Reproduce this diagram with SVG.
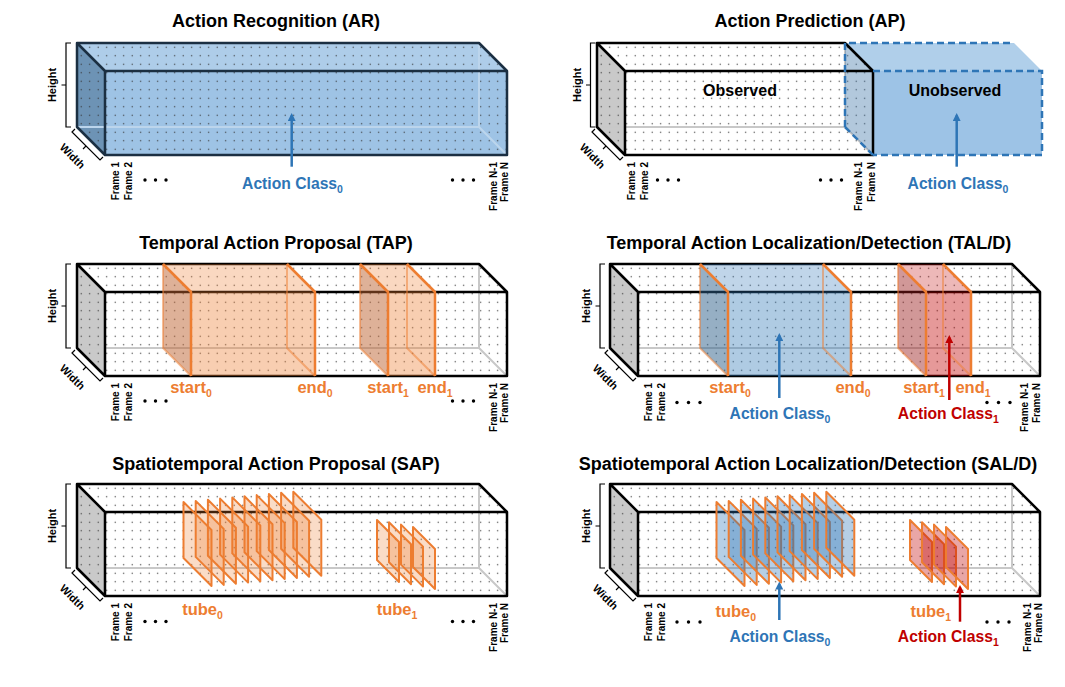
<svg xmlns="http://www.w3.org/2000/svg" width="1065" height="687" viewBox="0 0 1065 687">
<style>
text{font-family:"Liberation Sans",Arial,Helvetica,sans-serif;font-weight:bold}
.ttl{font-size:18px;text-anchor:middle;fill:#000}
.fr{font-size:10px;text-anchor:end;fill:#000}
.dim{font-size:11px;text-anchor:middle;fill:#000}
.org{font-size:16.5px;text-anchor:middle;fill:#ed7d31}
.acb{font-size:15.7px;text-anchor:middle;fill:#2e75b6}
.acr{font-size:15.7px;text-anchor:middle;fill:#c00000}
.obs{font-size:16px;text-anchor:middle;fill:#000}
.sub{font-size:10.5px}
.edge{fill:none;stroke:#000;stroke-width:2.5;stroke-linejoin:round}
.hid{fill:none;stroke:#c8c8c8;stroke-width:2}
.brk{fill:none;stroke:#000;stroke-width:1.2}
.wf{fill:#fff}
.gf{fill:#c9c9c9}
.dots{fill:url(#dots)}
.ostk{fill:none;stroke:#ed7d31;stroke-width:2.5;stroke-linejoin:round}
.ostkl{fill:none;stroke:#ed7d31;stroke-width:2;stroke-opacity:0.5}
.fo{fill:#ed7d31;fill-opacity:0.27;stroke:#ed7d31;stroke-width:2;stroke-linejoin:round}
.fb{fill:#2e75b6;fill-opacity:0.35;stroke:#ed7d31;stroke-width:2;stroke-linejoin:round}
.frd{fill:#c00000;fill-opacity:0.35;stroke:#ed7d31;stroke-width:2;stroke-linejoin:round}
.ell{fill:#000}
.arb{fill:none;stroke:#2e75b6;stroke-width:2.5;marker-end:url(#hb)}
.arr{fill:none;stroke:#c00000;stroke-width:2.5;marker-end:url(#hr)}
</style>
<defs>
<pattern id="dots" width="8.5" height="8.5" patternUnits="userSpaceOnUse"><circle cx="4.2" cy="4.2" r="0.65" fill="#333"/></pattern>
<marker id="hb" viewBox="0 0 10 10" refX="7" refY="5" markerWidth="8" markerHeight="8" markerUnits="userSpaceOnUse" orient="auto"><path d="M0,0L10,5L0,10Z" fill="#2e75b6"/></marker>
<marker id="hr" viewBox="0 0 10 10" refX="7" refY="5" markerWidth="8" markerHeight="8" markerUnits="userSpaceOnUse" orient="auto"><path d="M0,0L10,5L0,10Z" fill="#c00000"/></marker>
<g id="box402">
<path class="wf" d="M0,0H402L430,28H28Z"/>
<path class="gf" d="M0,0L28,28V112L0,84Z"/>
<rect class="wf" x="28" y="28" width="402" height="84"/>
<path class="dots" d="M0,0H402L430,28V112H28L0,84Z"/>
<path class="hid" d="M0,84H402V0M402,84L430,112"/>
<path class="edge" d="M0,0H402L430,28V112H28L0,84ZM0,0L28,28H430M28,28V112"/>
</g>
</defs>
<rect width="1065" height="687" fill="#fff"/>

<!-- Action Recognition -->
<g id="panel-ar">
<text class="ttl" x="276" y="27">Action Recognition (AR)</text>
<g transform="translate(77,43)">
<path d="M0,0H402L430,28H28Z" fill="#aecde9"/>
<path d="M0,0L28,28V112L0,84Z" fill="#6d93b5"/>
<rect x="28" y="28" width="402" height="84" fill="#9ec3e5"/>
<path class="dots" d="M0,0H402L430,28V112H28L0,84Z"/>
<path d="M0,84H402V0M402,84L430,112" fill="none" stroke="#bcd5ec" stroke-width="2"/>
<path class="edge" style="stroke:#1b2f42" d="M0,0H402L430,28V112H28L0,84ZM0,0L28,28H430M28,28V112"/>
<path class="brk" d="M-6,0H-11V84H-6M-11,42H-15.5"/>
<text class="dim" transform="translate(-21,42) rotate(-90)">Height</text>
<path class="brk" d="M-2,86L-5,89L23,117L26,114M9,103L6,106"/>
<text class="dim" transform="translate(-4.5,113) rotate(45)" y="4">Width</text>
<text class="fr" transform="translate(41.5,119) rotate(-90)">Frame 1</text>
<text class="fr" transform="translate(54.5,119) rotate(-90)">Frame 2</text>
<text class="fr" transform="translate(419.5,119) rotate(-90)">Frame N-1</text>
<text class="fr" transform="translate(431,119) rotate(-90)">Frame N</text>
<g class="ell"><circle cx="68" cy="137" r="1.7"/><circle cx="78.5" cy="137" r="1.7"/><circle cx="89" cy="137" r="1.7"/><circle cx="375.5" cy="137" r="1.7"/><circle cx="386" cy="137" r="1.7"/><circle cx="396.5" cy="137" r="1.7"/></g>
<text class="acb" x="215.5" y="146">Action Class<tspan class="sub" dy="4">0</tspan></text>
</g>
</g>

<!-- Action Prediction -->
<g id="panel-ap">
<text class="ttl" x="810" y="27">Action Prediction (AP)</text>
<g transform="translate(597,43)">
<path class="wf" d="M0,0H248L276,28H28Z"/>
<path class="gf" d="M0,0L28,28V112L0,84Z"/>
<rect class="wf" x="28" y="28" width="248" height="84"/>
<path class="dots" d="M0,0H248L276,28V112H28L0,84Z"/>
<path class="hid" d="M0,84H248V0M248,84L276,112"/>
<g id="ap-unobserved">
<path d="M248,0H417L445,28H276Z" fill="#b0cfea"/>
<rect x="276" y="28" width="169" height="84" fill="#9dc3e6"/>
<path d="M248,0L276,28V112L248,84Z" fill="#3f76a8" fill-opacity="0.4"/>
</g>
<path class="edge" d="M0,0H248L276,28V112H28L0,84ZM0,0L28,28H276M28,28V112"/>
<path d="M248,84V0H417M276,28H445V112H276M248,84L276,112" fill="none" stroke="#2e75b6" stroke-width="2.5" stroke-dasharray="7 4"/>
<text class="obs" x="143" y="53">Observed</text>
<text class="obs" x="358" y="53">Unobserved</text>
<path class="brk" d="M-1.5,0H-6.5V84H-1.5M-6.5,42H-11"/>
<text class="dim" transform="translate(-16.5,42) rotate(-90)">Height</text>
<path class="brk" d="M-2,86L-5,89L23,117L26,114M9,103L6,106"/>
<text class="dim" transform="translate(-4.5,113) rotate(45)" y="4">Width</text>
<text class="fr" transform="translate(38,119) rotate(-90)">Frame 1</text>
<text class="fr" transform="translate(50.5,119) rotate(-90)">Frame 2</text>
<text class="fr" transform="translate(265,119) rotate(-90)">Frame N-1</text>
<text class="fr" transform="translate(278,119) rotate(-90)">Frame N</text>
<g class="ell"><circle cx="60.5" cy="137" r="1.7"/><circle cx="71" cy="137" r="1.7"/><circle cx="81.5" cy="137" r="1.7"/><circle cx="223.5" cy="137" r="1.7"/><circle cx="234" cy="137" r="1.7"/><circle cx="244.5" cy="137" r="1.7"/></g>
<text class="acb" x="361" y="145.5">Action Class<tspan class="sub" dy="4">0</tspan></text>
</g>
</g>

<!-- Temporal Action Proposal -->
<g id="panel-tap">
<text class="ttl" x="276" y="249">Temporal Action Proposal (TAP)</text>
<g transform="translate(77,264)">
<use href="#box402"/>
<g id="tap-seg0">
<path d="M86,0H210L238,28H114Z" fill="#ed7d31" fill-opacity="0.3"/>
<rect x="114" y="28" width="124" height="84" fill="#ed7d31" fill-opacity="0.38"/>
<path d="M86,0L114,28V112L86,84Z" fill="#be6432" fill-opacity="0.5"/>
<path class="ostkl" d="M86,0V84L114,112M210,0V84L238,112"/>
<path class="ostk" d="M86,0L114,28V112M210,0L238,28V112"/>
</g>
<g id="tap-seg1">
<path d="M283,0H330L358,28H311Z" fill="#ed7d31" fill-opacity="0.3"/>
<rect x="311" y="28" width="47" height="84" fill="#ed7d31" fill-opacity="0.38"/>
<path d="M283,0L311,28V112L283,84Z" fill="#be6432" fill-opacity="0.5"/>
<path class="ostkl" d="M283,0V84L311,112M330,0V84L358,112"/>
<path class="ostk" d="M283,0L311,28V112M330,0L358,28V112"/>
</g>
<path class="brk" d="M-6,0H-11V84H-6M-11,42H-15.5"/>
<text class="dim" transform="translate(-21,42) rotate(-90)">Height</text>
<path class="brk" d="M-2,86L-5,89L23,117L26,114M9,103L6,106"/>
<text class="dim" transform="translate(-4.5,113) rotate(45)" y="4">Width</text>
<text class="fr" transform="translate(41.5,119) rotate(-90)">Frame 1</text>
<text class="fr" transform="translate(54.5,119) rotate(-90)">Frame 2</text>
<text class="fr" transform="translate(419.5,119) rotate(-90)">Frame N-1</text>
<text class="fr" transform="translate(431,119) rotate(-90)">Frame N</text>
<g class="ell"><circle cx="68" cy="137" r="1.7"/><circle cx="78.5" cy="137" r="1.7"/><circle cx="89" cy="137" r="1.7"/><circle cx="375.5" cy="137" r="1.7"/><circle cx="386" cy="137" r="1.7"/><circle cx="396.5" cy="137" r="1.7"/></g>
<text class="org" x="114" y="129">start<tspan class="sub" dy="4">0</tspan></text>
<text class="org" x="238" y="129">end<tspan class="sub" dy="4">0</tspan></text>
<text class="org" x="311" y="129">start<tspan class="sub" dy="4">1</tspan></text>
<text class="org" x="358" y="129">end<tspan class="sub" dy="4">1</tspan></text>
</g>
</g>

<!-- Temporal Action Localization/Detection -->
<g id="panel-tald">
<text class="ttl" x="809" y="249">Temporal Action Localization/Detection (TAL/D)</text>
<g transform="translate(610,264)">
<use href="#box402"/>
<g id="tald-seg0">
<path d="M90,0H213L241,28H118Z" fill="#2e75b6" fill-opacity="0.3"/>
<rect x="118" y="28" width="123" height="84" fill="#2e75b6" fill-opacity="0.38"/>
<path d="M90,0L118,28V112L90,84Z" fill="#2e5f8a" fill-opacity="0.5"/>
<path class="ostkl" d="M90,0V84L118,112M213,0V84L241,112"/>
<path class="ostk" d="M90,0L118,28V112M213,0L241,28V112"/>
</g>
<g id="tald-seg1">
<path d="M288,0H333L361,28H316Z" fill="#c00000" fill-opacity="0.28"/>
<rect x="316" y="28" width="45" height="84" fill="#c00000" fill-opacity="0.4"/>
<path d="M288,0L316,28V112L288,84Z" fill="#9a1a1a" fill-opacity="0.45"/>
<path class="ostkl" d="M288,0V84L316,112M333,0V84L361,112"/>
<path class="ostk" d="M288,0L316,28V112M333,0L361,28V112"/>
</g>
<path class="brk" d="M-5,0H-10V84H-5M-10,42H-14.5"/>
<text class="dim" transform="translate(-20,42) rotate(-90)">Height</text>
<path class="brk" d="M-2,86L-5,89L23,117L26,114M9,103L6,106"/>
<text class="dim" transform="translate(-4.5,113) rotate(45)" y="4">Width</text>
<text class="fr" transform="translate(42,119) rotate(-90)">Frame 1</text>
<text class="fr" transform="translate(54.5,119) rotate(-90)">Frame 2</text>
<text class="fr" transform="translate(418,119) rotate(-90)">Frame N-1</text>
<text class="fr" transform="translate(430,119) rotate(-90)">Frame N</text>
<g class="ell"><circle cx="67" cy="138.5" r="1.7"/><circle cx="78.5" cy="138.5" r="1.7"/><circle cx="90" cy="138.5" r="1.7"/><circle cx="377" cy="138.5" r="1.7"/><circle cx="388.5" cy="138.5" r="1.7"/><circle cx="400" cy="138.5" r="1.7"/></g>
<text class="org" x="120" y="129.3">start<tspan class="sub" dy="4">0</tspan></text>
<text class="org" x="243" y="129.3">end<tspan class="sub" dy="4">0</tspan></text>
<text class="org" x="314" y="129.3">start<tspan class="sub" dy="4">1</tspan></text>
<text class="org" x="363" y="129.3">end<tspan class="sub" dy="4">1</tspan></text>
<text class="acb" x="170" y="155">Action Class<tspan class="sub" dy="4">0</tspan></text>
<text class="acr" x="338.3" y="155">Action Class<tspan class="sub" dy="4">1</tspan></text>
</g>
</g>

<!-- Spatiotemporal Action Proposal -->
<g id="panel-sap">
<text class="ttl" x="276" y="470">Spatiotemporal Action Proposal (SAP)</text>
<g transform="translate(77,484)">
<use href="#box402"/>
<g id="sap-tube0">
<path class="fo" d="M106.5,18L134.5,46V102L106.5,74Z"/>
<path class="fo" d="M118.7,16.9L146.7,44.9V100.9L118.7,72.9Z"/>
<path class="fo" d="M130.9,15.7L158.9,43.7V99.7L130.9,71.7Z"/>
<path class="fo" d="M143.1,14.6L171.1,42.6V98.6L143.1,70.6Z"/>
<path class="fo" d="M155.3,13.4L183.3,41.4V97.4L155.3,69.4Z"/>
<path class="fo" d="M167.5,12.3L195.5,40.3V96.3L167.5,68.3Z"/>
<path class="fo" d="M179.7,11.1L207.7,39.1V95.1L179.7,67.1Z"/>
<path class="fo" d="M191.9,10L219.9,38V94L191.9,66Z"/>
<path class="fo" d="M204.1,8.8L232.1,36.8V92.8L204.1,64.8Z"/>
<path class="fo" d="M216.3,7.7L244.3,35.7V91.7L216.3,63.7Z"/>
</g>
<g id="sap-tube1">
<path class="fo" d="M300,36L322,58V98L300,76Z"/>
<path class="fo" d="M312,38.3L334,60.3V100.3L312,78.3Z"/>
<path class="fo" d="M324,40.6L346,62.6V102.6L324,80.6Z"/>
<path class="fo" d="M336,43L358,65V105L336,83Z"/>
</g>
<path class="brk" d="M-6,0H-11V84H-6M-11,42H-15.5"/>
<text class="dim" transform="translate(-21,42) rotate(-90)">Height</text>
<path class="brk" d="M-2,86L-5,89L23,117L26,114M9,103L6,106"/>
<text class="dim" transform="translate(-4.5,113) rotate(45)" y="4">Width</text>
<text class="fr" transform="translate(41.5,119) rotate(-90)">Frame 1</text>
<text class="fr" transform="translate(54.5,119) rotate(-90)">Frame 2</text>
<text class="fr" transform="translate(419.5,119) rotate(-90)">Frame N-1</text>
<text class="fr" transform="translate(431,119) rotate(-90)">Frame N</text>
<g class="ell"><circle cx="68" cy="137.5" r="1.7"/><circle cx="78.5" cy="137.5" r="1.7"/><circle cx="89" cy="137.5" r="1.7"/><circle cx="375.5" cy="137.5" r="1.7"/><circle cx="386" cy="137.5" r="1.7"/><circle cx="396.5" cy="137.5" r="1.7"/></g>
<text class="org" x="125.5" y="131">tube<tspan class="sub" dy="4">0</tspan></text>
<text class="org" x="320" y="131">tube<tspan class="sub" dy="4">1</tspan></text>
</g>
</g>

<!-- Spatiotemporal Action Localization/Detection -->
<g id="panel-sald">
<text class="ttl" x="808" y="470">Spatiotemporal Action Localization/Detection (SAL/D)</text>
<g transform="translate(610,484)">
<use href="#box402"/>
<g id="sald-tube0">
<path class="fb" d="M106.5,18L134.5,46V102L106.5,74Z"/>
<path class="fb" d="M118.7,16.9L146.7,44.9V100.9L118.7,72.9Z"/>
<path class="fb" d="M130.9,15.7L158.9,43.7V99.7L130.9,71.7Z"/>
<path class="fb" d="M143.1,14.6L171.1,42.6V98.6L143.1,70.6Z"/>
<path class="fb" d="M155.3,13.4L183.3,41.4V97.4L155.3,69.4Z"/>
<path class="fb" d="M167.5,12.3L195.5,40.3V96.3L167.5,68.3Z"/>
<path class="fb" d="M179.7,11.1L207.7,39.1V95.1L179.7,67.1Z"/>
<path class="fb" d="M191.9,10L219.9,38V94L191.9,66Z"/>
<path class="fb" d="M204.1,8.8L232.1,36.8V92.8L204.1,64.8Z"/>
<path class="fb" d="M216.3,7.7L244.3,35.7V91.7L216.3,63.7Z"/>
</g>
<g id="sald-tube1">
<path class="frd" d="M300,36L322,58V98L300,76Z"/>
<path class="frd" d="M312,38.3L334,60.3V100.3L312,78.3Z"/>
<path class="frd" d="M324,40.6L346,62.6V102.6L324,80.6Z"/>
<path class="frd" d="M336,43L358,65V105L336,83Z"/>
</g>
<path class="brk" d="M-5,0H-10V84H-5M-10,42H-14.5"/>
<text class="dim" transform="translate(-20,42) rotate(-90)">Height</text>
<path class="brk" d="M-2,86L-5,89L23,117L26,114M9,103L6,106"/>
<text class="dim" transform="translate(-4.5,113) rotate(45)" y="4">Width</text>
<text class="fr" transform="translate(42,119) rotate(-90)">Frame 1</text>
<text class="fr" transform="translate(54.5,119) rotate(-90)">Frame 2</text>
<text class="fr" transform="translate(420.5,119) rotate(-90)">Frame N-1</text>
<text class="fr" transform="translate(432,119) rotate(-90)">Frame N</text>
<g class="ell"><circle cx="67" cy="138" r="1.7"/><circle cx="78.5" cy="138" r="1.7"/><circle cx="90" cy="138" r="1.7"/><circle cx="377" cy="138" r="1.7"/><circle cx="388" cy="138" r="1.7"/><circle cx="399" cy="138" r="1.7"/></g>
<text class="org" x="125.8" y="132.5">tube<tspan class="sub" dy="4">0</tspan></text>
<text class="org" x="320.8" y="132.5">tube<tspan class="sub" dy="4">1</tspan></text>
<text class="acb" x="170" y="158.3">Action Class<tspan class="sub" dy="4">0</tspan></text>
<text class="acr" x="338.3" y="158.3">Action Class<tspan class="sub" dy="4">1</tspan></text>
</g>
</g>

<g id="connectors">
<line class="arb" x1="291.7" y1="166.7" x2="291.7" y2="115.5"/>
<line class="arb" x1="956.7" y1="166.7" x2="956.7" y2="115.5"/>
<line class="arb" x1="779.3" y1="398" x2="779.3" y2="335.5"/>
<line class="arr" x1="949.3" y1="400" x2="949.3" y2="337.5"/>
<line class="arb" x1="779.3" y1="620" x2="779.3" y2="584"/>
<line class="arr" x1="960" y1="621.7" x2="960" y2="587.5"/>
</g>
</svg>
